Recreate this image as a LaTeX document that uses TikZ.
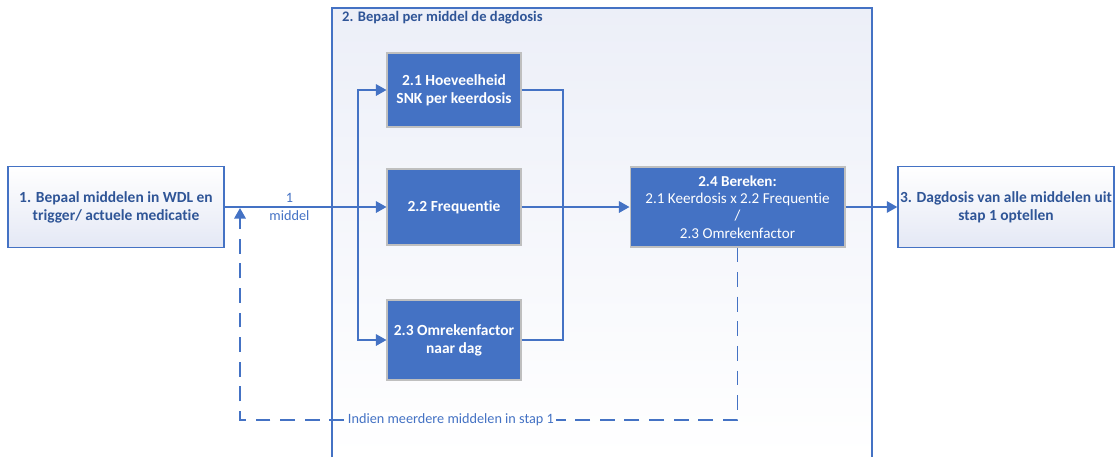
\documentclass[tikz,border=0pt]{standalone}
\usepackage{fontspec}
\setmainfont{Carlito}[Ligatures=NoCommon]
\usetikzlibrary{arrows.meta}
\definecolor{mainblue}{HTML}{4472C4}
\definecolor{textblue}{HTML}{2F5597}
\definecolor{paleblue}{HTML}{E4E8F5}
\tikzset{
  outerbox/.style={draw=mainblue,line width=0.8pt,top color=white,bottom color=paleblue,
    text=textblue,font=\bfseries\fontsize{8.8}{10.3}\selectfont,align=center,
    inner sep=0pt,minimum width=4.32cm,minimum height=1.62cm},
  stepbox/.style={draw=gray!50,line width=0.6pt,fill=mainblue,text=white,
    font=\bfseries\fontsize{8.8}{10.3}\selectfont,align=center,
    inner sep=0pt,minimum width=2.68cm},
  flow/.style={draw=mainblue,line width=1pt,-{Triangle[length=6pt,width=6.5pt]}},
  joinline/.style={draw=mainblue,line width=1pt},
  loopline/.style={draw=mainblue,line width=1pt,dash pattern=on 8.5pt off 5.5pt,
    -{Triangle[length=6pt,width=6.5pt]}},
  flowlabel/.style={text=mainblue,font=\fontsize{8.1}{10.3}\selectfont,align=center}
}
\begin{document}
\begin{tikzpicture}[x=0.02cm,y=-0.02cm]
  \useasboundingbox (0,0) rectangle (1116,457);
  % group 2
  \shade[top color=paleblue!70,bottom color=white] (332,8) rectangle (872,457);
  \draw[mainblue,line width=0.8pt] (332,457) -- (332,8) -- (872,8) -- (872,457);
  \node[anchor=west,text=textblue,font=\bfseries\fontsize{8.3}{10}\selectfont] (gtitle) at (336,18) {2. Bepaal per middel de dagdosis};
  % boxes
  \node[outerbox] (b1) at (116,207) {1. Bepaal middelen in WDL en\\trigger/ actuele medicatie};
  \node[stepbox,minimum height=1.48cm] (s21) at (454,90) {2.1 Hoeveelheid\\SNK per keerdosis};
  \node[stepbox,minimum height=1.52cm] (s22) at (454,207) {2.2 Frequentie};
  \node[stepbox,minimum height=1.6cm] (s23) at (454,340) {2.3 Omrekenfactor\\naar dag};
  \node[stepbox,minimum width=4.3cm,minimum height=1.6cm,font=\fontsize{8.6}{9.9}\selectfont] (s24) at (737.5,207)
    {\textbf{2.4 Bereken:}\\2.1 Keerdosis x 2.2 Frequentie\\/\\2.3 Omrekenfactor};
  \node[outerbox] (b3) at (1006,207) {3. Dagdosis van alle middelen uit\\stap 1 optellen};
  % connectors
  \coordinate (split) at (358,207);
  \coordinate (merge) at (563,207);
  \draw[flow] (b1.east) -- node[flowlabel,pos=0.4] (lab1) {1\\middel} (s22.west);
  \draw[flow] (split) |- (s21.west);
  \draw[flow] (split) |- (s23.west);
  \draw[joinline] (s21.east) -| (merge);
  \draw[joinline] (s23.east) -| (merge);
  \draw[flow] (s22.east) -- (s24.west);
  \draw[flow] (s24.east) -- (b3.west);
  % loop back
  \coordinate (loopr) at (737.5,420);
  \coordinate (loopl) at (240,420);
  \coordinate (back) at (240,208);
  \draw[loopline] (s24.south) -- (loopr) -- node[flowlabel,fill=white,inner sep=1pt,pos=0.576] (lab2) {Indien meerdere middelen in stap 1} (loopl) -- (back);
\end{tikzpicture}
\end{document}
